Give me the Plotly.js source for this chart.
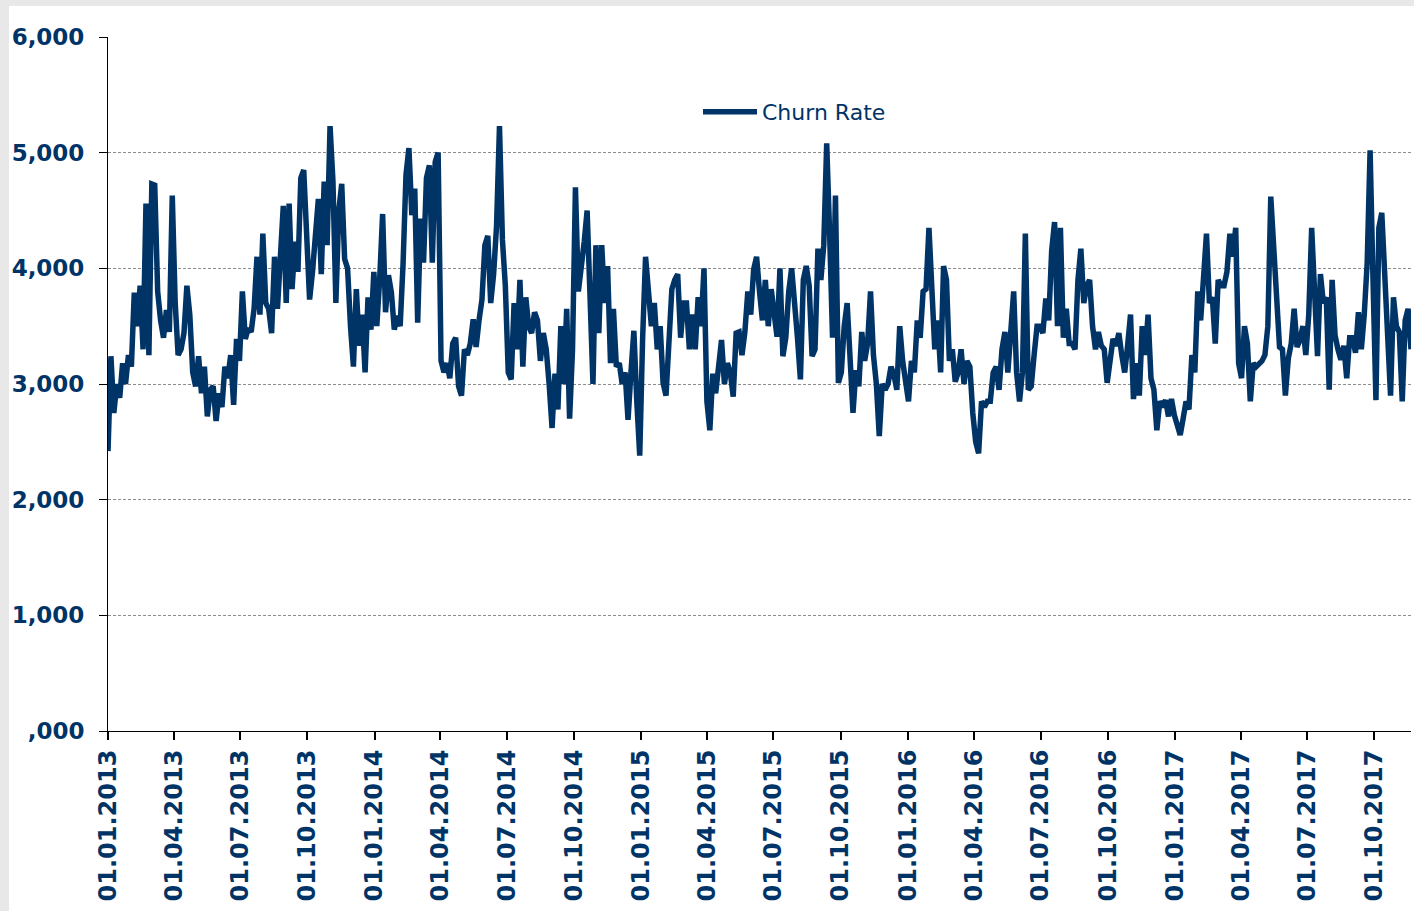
<!DOCTYPE html>
<html><head><meta charset="utf-8">
<script src="https://cdn.plot.ly/plotly-3.0.1.min.js"></script>
<style>
html,body{margin:0;padding:0;background:#e8e8e8;width:1414px;height:911px;overflow:hidden;}
#chart{position:absolute;left:9px;top:6px;width:1405px;height:905px;background:#fff;}
</style></head><body><div id="chart"></div>
<script>
// Series: sampled every 4 days starting 01.01.2013
const startDate = [2013, 0, 1];
const stepDays = 4;
const seriesName = 'Churn Rate';
const churnRate = [
2420,3240,2750,3000,2880,3180,3000,3250,3150,3790,
3500,3850,3300,4560,3250,4730,4720,3800,3550,3400,
3640,3450,4630,3700,3250,3300,3440,3850,3600,3100,
2980,3240,2920,3150,2720,2950,2980,2680,2920,2800,
3150,3050,3250,2820,3390,3200,3800,3390,3480,3450,
3650,4100,3600,4300,3700,3650,3440,4100,3650,4230,
4540,3700,4560,3820,4230,3970,4780,4850,4300,3730,
3970,4370,4600,3950,4750,4200,5230,4750,3700,4500,
4730,4080,4000,3500,3150,3820,3330,3600,3100,3750,
3470,3970,3500,3910,4470,3620,3940,3790,3470,3590,
3500,4040,4810,5040,4460,4690,3530,4430,4050,4780,
4890,4050,4920,5000,
3200,3100,3180,3050,3350,3400,2980,2900,3300,3250,
3350,3560,3320,3550,3730,4200,4280,3700,3950,4370,
5230,4250,3850,3100,3040,3700,3300,3900,3150,3750,
3500,3440,3620,3550,3200,3440,3300,3000,2620,3090,
2780,3500,3000,3650,2700,3300,4700,3800,4000,4230,
4500,3700,3000,4200,3440,4200,3700,4020,3180,3650,
3150,3180,3000,3100,2690,3100,3460,2850,2380,3400,
4100,3800,3500,3700,3300,3500,3010,2900,3300,3820,
3900,3950,3400,3700,3700,3300,3600,3300,3750,3500,
4000,2850,2600,3090,2920,3200,3380,3000,3180,3100,
2890,3440,3450,3250,3450,3800,3600,3990,4100,3800,
3550,3900,
3500,3820,3600,3410,4000,3240,3400,3800,4000,3620,
3400,3040,3900,4020,3850,3240,3300,4170,3900,4200,
5080,4300,3400,4630,3010,3100,3500,3700,3300,2750,
3120,2980,3450,3200,3350,3800,3250,3000,2550,3000,
2950,3000,3150,3080,2950,3500,3200,3000,2850,3200,
3100,3550,3400,3800,3820,4350,3800,3300,3550,3100,
4020,3900,3200,3300,3020,3100,3300,3000,3200,3150,
2750,2500,2400,2850,2800,2850,2850,3100,3150,2950,
3300,3450,3100,3400,3800,3100,2850,3100,4300,2950,
2980,3250,3500,3500,3440,3740,3550,4150,4400,3500,
4350,3400,3650,3350,3350,3300,3900,4170,3700,3850,
3900,3500,3300,
3450,3330,3300,3010,3200,3390,3330,3440,3250,3100,
3330,3600,2870,3180,2900,3500,3250,3600,3050,2950,
2600,2850,2800,2860,2720,2870,2730,2660,2560,2700,
2850,2780,3250,3100,3800,3550,3950,4300,3700,3750,
3350,3900,3850,3850,3970,4300,4100,4350,3180,3050,
3500,3350,2850,3180,3150,3180,3200,3250,3500,4620,
4150,3680,3320,3300,2900,3220,3350,3650,3320,3380,
3500,3250,3600,4350,3900,3240,3950,3700,3750,2950,
3900,3420,3300,3210,3330,3050,3400,3400,3270,3620,
3300,3600,4050,5020,3900,2860,4350,4480,3950,3270,
2900,3750,3500,3450,2850,3550,3650,3300
];
const yTickVals = [0, 1000, 2000, 3000, 4000, 5000, 6000];
const yTickText = [',000', '1,000', '2,000', '3,000', '4,000', '5,000', '6,000'];
const xTickStart = '2013-01-01';

const t0 = Date.UTC(startDate[0], startDate[1], startDate[2]);
const dates = churnRate.map((_, i) => new Date(t0 + i * stepDays * 86400000).toISOString().slice(0, 10));

const navy = '#003366';
const yTickFont = {family: 'DejaVu Sans', size: 23, color: navy, weight: 'bold'};
const xTickFont = {family: 'DejaVu Sans', size: 24, color: navy, weight: 'bold'};

const trace = {
  x: dates, y: churnRate, type: 'scatter', mode: 'lines', name: seriesName,
  line: {color: navy, width: 5.5}
};

const layout = {
  width: 1405, height: 905,
  margin: {l: 99, r: 3, t: 31, b: 180, pad: 0},
  paper_bgcolor: '#ffffff', plot_bgcolor: '#ffffff',
  showlegend: true,
  legend: {
    x: 0.4528, y: 0.892, xanchor: 'left', yanchor: 'middle',
    bgcolor: 'rgba(0,0,0,0)', borderwidth: 0,
    font: {family: 'DejaVu Sans', size: 22, color: navy},
    itemwidth: 54
  },
  xaxis: {
    type: 'date', range: [dates[0], dates[dates.length - 1]],
    tick0: xTickStart, dtick: 'M3', tickformat: '%d.%m.%Y', tickangle: -90,
    ticks: 'outside', ticklen: 8, tickwidth: 2, tickcolor: '#000',
    showline: true, linecolor: '#000', linewidth: 1,
    showgrid: false, zeroline: false,
    tickfont: xTickFont, ticklabelstandoff: 0
  },
  yaxis: {
    range: [0, 6000], tickmode: 'array', tickvals: yTickVals, ticktext: yTickText,
    ticks: 'outside', ticklen: 8, tickwidth: 1, tickcolor: '#000',
    showline: true, linecolor: '#000', linewidth: 1,
    showgrid: true, gridcolor: '#8c8c8c', gridwidth: 1, griddash: '3px,2px',
    zeroline: false, tickfont: yTickFont, ticklabelstandoff: 10
  }
};

Plotly.newPlot('chart', [trace], layout, {staticPlot: true, displayModeBar: false});
</script></body></html>
